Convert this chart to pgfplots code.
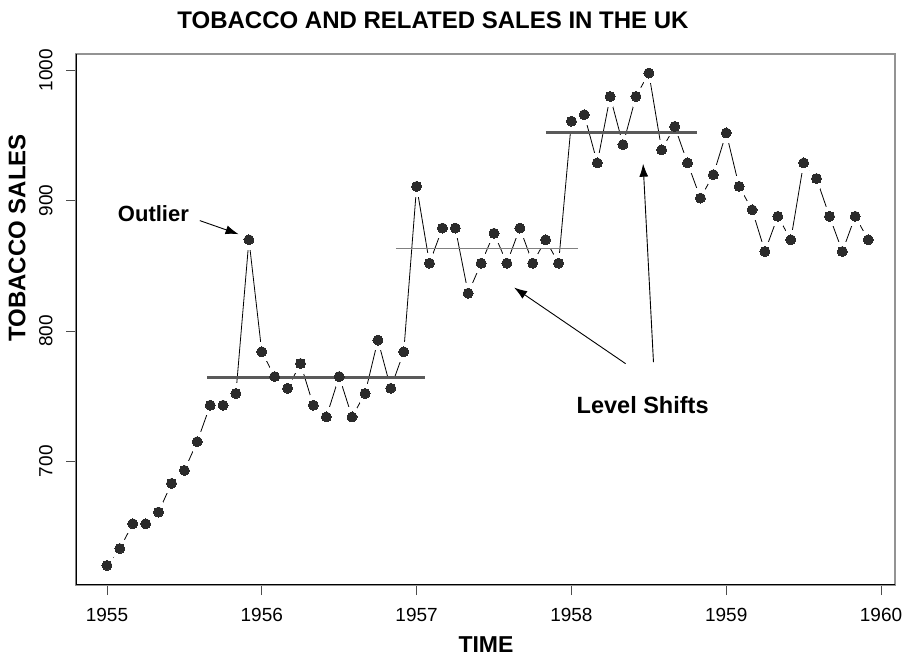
\documentclass[border=0pt]{standalone}
\usepackage{pgfplots}
\pgfplotsset{compat=1.18}
\usepackage{pgfplotstable}
\usepackage{fontspec}
\setmainfont{Liberation Sans}
\usetikzlibrary{arrows.meta}
\definecolor{dotcol}{HTML}{2B2B2B}
\definecolor{lvlcol}{HTML}{5A5A5A}

% monthly tobacco sales, Jan 1955 - Dec 1959
\pgfplotstableread{
t y
1955.000 620
1955.083 633
1955.167 652
1955.250 652
1955.333 661
1955.417 683
1955.500 693
1955.583 715
1955.667 743
1955.750 743
1955.833 752
1955.917 870
1956.000 784
1956.083 765
1956.167 756
1956.250 775
1956.333 743
1956.417 734
1956.500 765
1956.583 734
1956.667 752
1956.750 793
1956.833 756
1956.917 784
1957.000 911
1957.083 852
1957.167 879
1957.250 879
1957.333 829
1957.417 852
1957.500 875
1957.583 852
1957.667 879
1957.750 852
1957.833 870
1957.917 852
1958.000 961
1958.083 966
1958.167 929
1958.250 980
1958.333 943
1958.417 980
1958.500 998
1958.583 939
1958.667 957
1958.750 929
1958.833 902
1958.917 920
1959.000 952
1959.083 911
1959.167 893
1959.250 861
1959.333 888
1959.417 870
1959.500 929
1959.583 917
1959.667 888
1959.750 861
1959.833 888
1959.917 870
}\tobacco

\begin{document}
\begin{tikzpicture}
\path[use as bounding box] (-76pt,-71pt) rectangle (827pt,585pt);
\begin{axis}[
  at={(0pt,0pt)}, anchor=south west,
  scale only axis, width=819pt, height=531pt,
  xmin=1954.80, xmax=1960.09, ymin=605, ymax=1012.6,
  xtick={1955,1956,1957,1958,1959,1960},
  ytick={700,800,900,1000},
  xtick pos=bottom, ytick pos=left,
  tick align=outside, major tick length=10pt,
  tick style={gray!60!black, line width=0.9pt},
  axis line style={draw=gray!85, line width=1.2pt},
  clip marker paths=true,
  /pgf/number format/1000 sep={},
  /pgf/number format/assume math mode=true,
  ticklabel style={font=\fontsize{19}{22}\selectfont},
  xticklabel style={yshift=-10pt},
  yticklabel style={xshift=-10pt, rotate=90, anchor=south},
]
\addplot[black, line width=0.8pt] table[x=t, y=y] {\tobacco};
\addplot[only marks, draw=white, fill=white, mark=*, mark size=10pt,
  mark options={draw=white, fill=white, line width=0pt}] table[x=t, y=y] {\tobacco};
\addplot[lvlcol, line width=3pt] coordinates {(1955.649,764) (1957.056,764)};
\addplot[gray, line width=1.2pt] coordinates {(1956.866,863) (1958.041,863)};
\addplot[lvlcol, line width=3pt] coordinates {(1957.835,952) (1958.812,952)};
\addplot[only marks, mark=*, mark size=5pt, mark options={fill=dotcol, draw=dotcol, line width=0pt}] table[x=t, y=y] {\tobacco};
\draw[black, line width=2.5pt] (rel axis cs:0,1) -- (rel axis cs:0,0) -- (rel axis cs:1,0);

% annotations
\node[font=\bfseries\fontsize{22}{26}\selectfont] at (axis cs:1955.30,890) {Outlier};
\draw[black, line width=0.9pt, -{Latex[length=13pt,width=9pt]}] (axis cs:1955.60,884.7) -- (axis cs:1955.85,874.3);
\node[font=\bfseries\fontsize{23.5}{27}\selectfont] at (axis cs:1958.46,743) {Level Shifts};
\draw[black, line width=0.9pt, -{Latex[length=13pt,width=9pt]}] (axis cs:1958.35,774.9) -- (axis cs:1957.63,833.3);
\draw[black, line width=0.9pt, -{Latex[length=13pt,width=9pt]}] (axis cs:1958.53,776) -- (axis cs:1958.463,928.4);
\end{axis}
\node[font=\bfseries\fontsize{24}{28}\selectfont] at (357pt,565pt) {TOBACCO AND RELATED SALES IN THE UK};
\node[font=\bfseries\fontsize{24}{28}\selectfont, rotate=90] at (-59pt,347pt) {TOBACCO SALES};
\node[font=\bfseries\fontsize{23}{27}\selectfont] at (410pt,-60pt) {TIME};
\end{tikzpicture}
\end{document}
